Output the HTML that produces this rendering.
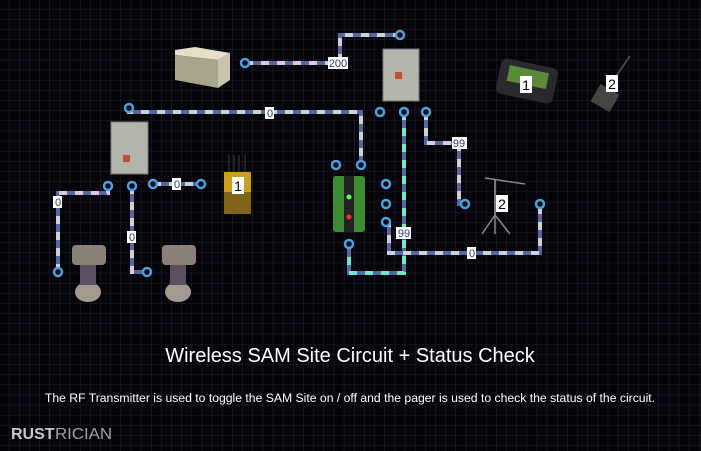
<!DOCTYPE html>
<html><head><meta charset="utf-8"><style>
html,body{margin:0;padding:0;background:#050409;}
svg{display:block}
text{font-family:"Liberation Sans",sans-serif;}
</style></head><body>
<svg width="701" height="451" viewBox="0 0 701 451" xmlns="http://www.w3.org/2000/svg">
<defs>
<pattern id="g" x="9.4" y="9.4" width="10.15" height="10.15" patternUnits="userSpaceOnUse">
<path d="M10.15 0V10.15H0" fill="none" stroke="#231f38" stroke-width="1"/>
</pattern>
</defs>
<rect width="701" height="451" fill="#050409"/>
<rect width="701" height="451" fill="url(#g)"/>

<g fill="none" stroke-width="4">
<g stroke="#5568a0">
<polyline points="245,63 340,63 340,35 400,35"/>
<polyline points="129,108 129,112 361,112 361,165"/>
<polyline points="108,186 108,193 58,193 58,272"/>
<polyline points="132,186 132,272 147,272"/>
<polyline points="153,184 201,184"/>
<polyline points="426,112 426,143 459,143 459,204 465,204"/>
<polyline points="386,222 389,222 389,253 540,253 540,204"/>
<polyline points="404,112 404,273 349,273 349,244"/>
</g>
<g stroke="#d0d0d8" stroke-dasharray="8 8">
<polyline points="245,63 340,63 340,35 400,35"/>
<polyline points="129,108 129,112 361,112 361,165"/>
<polyline points="108,186 108,193 58,193 58,272"/>
<polyline points="132,186 132,272 147,272"/>
<polyline points="153,184 201,184"/>
<polyline points="426,112 426,143 459,143 459,204 465,204"/>
<polyline points="386,222 389,222 389,253 540,253 540,204"/>
</g>
<polyline stroke="#6ee8c8" stroke-dasharray="8 8" points="404,112 404,273 349,273 349,244"/>
</g>

<g fill="#0a0a14" stroke="#4aa0e0" stroke-width="2.5">
<circle cx="245" cy="63" r="4"/><circle cx="400" cy="35" r="4"/>
<circle cx="380" cy="112" r="4"/><circle cx="404" cy="112" r="4"/><circle cx="426" cy="112" r="4"/>
<circle cx="129" cy="108" r="4"/>
<circle cx="108" cy="186" r="4"/><circle cx="132" cy="186" r="4"/><circle cx="153" cy="184" r="4"/><circle cx="201" cy="184" r="4"/>
<circle cx="58" cy="272" r="4"/><circle cx="147" cy="272" r="4"/>
<circle cx="336" cy="165" r="4"/><circle cx="361" cy="165" r="4"/>
<circle cx="386" cy="184" r="4"/><circle cx="386" cy="204" r="4"/><circle cx="386" cy="222" r="4"/>
<circle cx="349" cy="244" r="4"/>
<circle cx="465" cy="204" r="4"/><circle cx="540" cy="204" r="4"/>
</g>

<polygon points="175,50 195,47 230,53 218,60 175,55" fill="#e4e0c8"/>
<polygon points="175,55 218,60 218,88 175,80" fill="#a8a48c"/>
<polygon points="218,60 230,53 230,80 218,88" fill="#c8c4ac"/>
<rect x="383" y="49" width="36" height="52" fill="#b4b4ac" stroke="#777" />
<rect x="395" y="72" width="7" height="7" fill="#c05030"/>
<rect x="111" y="122" width="37" height="52" fill="#b4b4ac" stroke="#777"/>
<rect x="123" y="155" width="7" height="7" fill="#c05030"/>
<g stroke="#222" stroke-width="2"><line x1="229" y1="155" x2="229" y2="172"/><line x1="234" y1="155" x2="234" y2="172"/><line x1="239" y1="155" x2="239" y2="172"/><line x1="245" y1="155" x2="245" y2="172"/></g>
<rect x="224" y="172" width="27" height="42" fill="#c8a020"/>
<rect x="224" y="192" width="27" height="22" fill="#806418"/>
<rect x="333" y="176" width="32" height="56" rx="3" fill="#3e8a30"/>
<rect x="344" y="176" width="10" height="56" fill="#222"/>
<circle cx="349" cy="197" r="2.5" fill="#5f5"/><circle cx="349" cy="217" r="2.5" fill="#e33"/>
<g fill="#8a8278">
<rect x="72" y="245" width="34" height="20" rx="4"/><rect x="162" y="245" width="34" height="20" rx="4"/>
<ellipse cx="88" cy="292" rx="13" ry="10" fill="#a09a90"/><ellipse cx="178" cy="292" rx="13" ry="10" fill="#a09a90"/>
<rect x="80" y="265" width="16" height="20" fill="#5a5060"/><rect x="170" y="265" width="16" height="20" fill="#5a5060"/>
</g>
<rect x="498" y="63" width="58" height="36" rx="6" fill="#2a2a2e" transform="rotate(12 527 81)"/>
<rect x="507" y="69" width="40" height="16" fill="#5a8a3a" transform="rotate(12 527 81)"/>
<line x1="612" y1="82" x2="630" y2="56" stroke="#444" stroke-width="2"/>
<rect x="594" y="88" width="22" height="20" fill="#444" transform="rotate(30 605 98)"/>
<g stroke="#888" stroke-width="1.5" fill="none">
<line x1="485" y1="178" x2="525" y2="184"/><line x1="495" y1="180" x2="495" y2="215"/>
<line x1="495" y1="215" x2="482" y2="234"/><line x1="495" y1="215" x2="510" y2="234"/><line x1="495" y1="180" x2="495" y2="234"/>
</g>

<g font-size="11" text-anchor="middle" fill="#111">
<rect x="328" y="57" width="20" height="12" fill="#fff"/><text x="338" y="67" fill="#2a3a6a">200</text>
<rect x="265" y="107" width="9" height="12" fill="#fff"/><text x="270" y="117" fill="#2a3a6a">0</text>
<rect x="172" y="178" width="9" height="12" fill="#fff"/><text x="177" y="188" fill="#2a3a6a">0</text>
<rect x="53" y="196" width="9" height="12" fill="#fff"/><text x="58" y="206" fill="#2a3a6a">0</text>
<rect x="127" y="231" width="9" height="12" fill="#fff"/><text x="132" y="241" fill="#2a3a6a">0</text>
<rect x="452" y="137" width="15" height="12" fill="#fff"/><text x="459" y="147" fill="#2a3a6a">99</text>
<rect x="396" y="227" width="15" height="12" fill="#fff"/><text x="404" y="237" fill="#2a3a6a">99</text>
<rect x="467" y="247" width="9" height="12" fill="#fff"/><text x="472" y="257" fill="#2a3a6a">0</text>
</g>
<g font-size="14" text-anchor="middle" fill="#000">
<rect x="232" y="177" width="12" height="17" fill="#fff"/><text x="238" y="191">1</text>
<rect x="520" y="76" width="12" height="17" fill="#fff"/><text x="526" y="90">1</text>
<rect x="606" y="75" width="12" height="17" fill="#fff"/><text x="612" y="89">2</text>
<rect x="496" y="195" width="12" height="17" fill="#fff"/><text x="502" y="209">2</text>
</g>

<text x="350" y="362" font-size="20" fill="#fff" text-anchor="middle">Wireless SAM Site Circuit + Status Check</text>
<text x="350" y="402" font-size="12.2" fill="#fff" text-anchor="middle">The RF Transmitter is used to toggle the SAM Site on / off and the pager is used to check the status of the circuit.</text>
<text x="11" y="439" font-size="16" font-weight="bold" fill="#c8c8c8">RUST</text>
<text x="55" y="439" font-size="16" fill="#a0a0a0" textLength="57" lengthAdjust="spacingAndGlyphs">RICIAN</text>
</svg>
</body></html>
